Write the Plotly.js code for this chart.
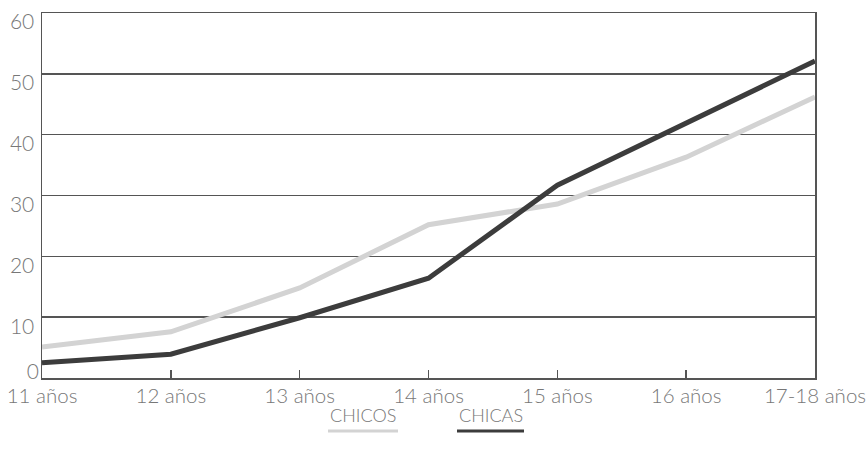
<!DOCTYPE html>
<html><head><meta charset="utf-8">
<script src="https://cdn.plot.ly/plotly-3.0.1.min.js"></script>
<style>html,body{margin:0;padding:0;background:#fff}#c{width:867px;height:460px}</style>
</head><body><div id="c"></div>
<script>
const categories = ["11 años","12 años","13 años","14 años","15 años","16 años","17-18 años"];
const chicos = [5.1, 7.6, 14.8, 25.2, 28.6, 36.3, 46.2];
const chicas = [2.5, 3.9, 9.9, 16.4, 31.7, 41.9, 52.1];
const yTicks = [10,20,30,40,50,60];
const yTickZero = [0];

const fam = "Lato, 'Open Sans', sans-serif";
const xfont = {family:fam, size:20.5, color:"#777", weight:300};
const yfont = {family:fam, size:21, color:"#777", weight:300};
const traces = [
  {x:categories, y:chicos, name:"CHICOS", mode:"lines", line:{color:"#d3d3d3", width:5}},
  {x:categories, y:chicas, name:"CHICAS", mode:"lines", line:{color:"#3c3c3c", width:5}},
  {x:categories, y:chicas, yaxis:"y2", mode:"lines", line:{width:0}, hoverinfo:"skip", opacity:0}
];
const layout = {
  width:867, height:460,
  margin:{l:42, r:52, t:13, b:82},
  paper_bgcolor:"#fff", plot_bgcolor:"#fff",
  showlegend:false,
  font:yfont,
  xaxis:{type:"category", range:[0,6], showgrid:false, zeroline:false,
    ticks:"inside", ticklen:8, tickwidth:1.5, tickcolor:"#555",
    showline:true, linecolor:"#555", linewidth:1.5, mirror:true,
    tickfont:xfont, ticklabelstandoff:-1, fixedrange:true},
  yaxis:{range:[0,60], tickvals:yTicks, showgrid:true, gridcolor:"#555", gridwidth:1.5,
    zeroline:false, showline:true, linecolor:"#555", linewidth:1.5, mirror:true,
    ticks:"", ticklabelstandoff:2, ticklabelshift:9, tickfont:yfont, fixedrange:true},
  yaxis2:{overlaying:"y", side:"left", range:[0,60], tickvals:yTickZero, showgrid:false,
    zeroline:false, showline:false, ticks:"", ticklabelstandoff:2, ticklabelshift:-6,
    tickfont:yfont, fixedrange:true},
  annotations:[
    {xref:"paper", yref:"paper", x:(363-42)/773, y:-(415-378)/365, text:"CHICOS", showarrow:false, font:{family:fam, size:18, color:"#777", weight:300}, yanchor:"middle", xanchor:"center"},
    {xref:"paper", yref:"paper", x:(491-42)/773, y:-(415-378)/365, text:"CHICAS", showarrow:false, font:{family:fam, size:18, color:"#777", weight:300}, yanchor:"middle", xanchor:"center"}
  ],
  shapes:[
    {type:"line", xref:"paper", yref:"paper", x0:(328-42)/773, x1:(398-42)/773, y0:-(431-378)/365, y1:-(431-378)/365, line:{color:"#d3d3d3", width:3}},
    {type:"line", xref:"paper", yref:"paper", x0:(457-42)/773, x1:(524-42)/773, y0:-(431-378)/365, y1:-(431-378)/365, line:{color:"#3c3c3c", width:3}}
  ]
};
Plotly.newPlot("c", traces, layout, {displayModeBar:false, staticPlot:true});
</script></body></html>
